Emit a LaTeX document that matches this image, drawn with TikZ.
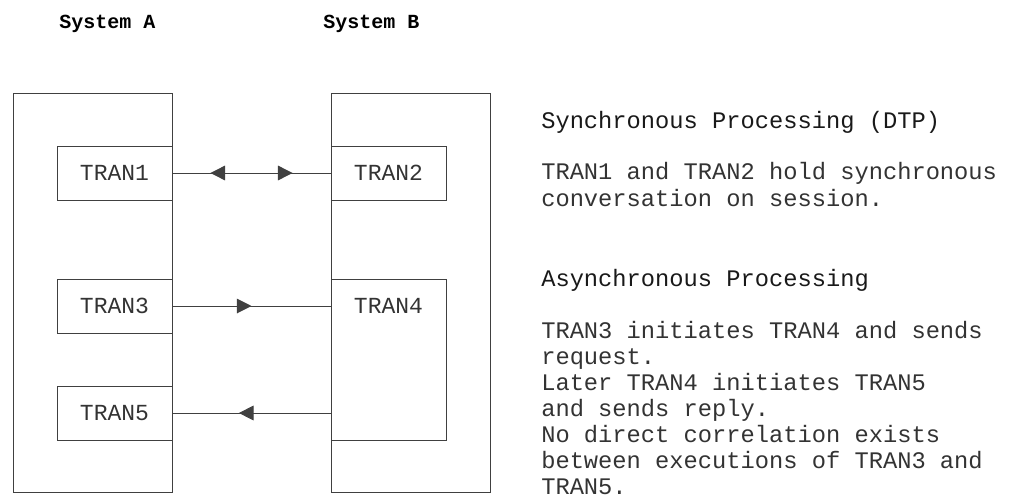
\documentclass[tikz,border=0pt]{standalone}
\usepackage{fontspec}
\setmainfont{Liberation Mono}
\usetikzlibrary{arrows.meta,decorations.markings}

\tikzset{
  sysbox/.style={draw=black!75, line width=0.75pt, inner sep=0pt, minimum width=159*0.75pt, minimum height=399*0.75pt},
  tranbox/.style={draw=black!75, line width=0.75pt, inner sep=0pt, minimum width=115*0.75pt, minimum height=54*0.75pt, text=black!80, font=\fontsize{17.25}{20}\selectfont},
  flow/.style={draw=black!75, line width=0.75pt},
  tipfwd/.style={postaction={decorate, decoration={markings, mark=at position #1 with {\arrow{Triangle[length=11pt,width=11pt]}}}}},
  tipbwd/.style={postaction={decorate, decoration={markings, mark=at position #1 with {\arrowreversed{Triangle[length=11pt,width=11pt]}}}}},
  systitle/.style={anchor=base west, inner sep=0pt, font=\bfseries\fontsize{15}{18}\selectfont},
  note/.style={anchor=base west, inner sep=0pt, text=black!80, font=\fontsize{17.8}{20}\selectfont},
}

\begin{document}
\begin{tikzpicture}[x=0.75pt,y=0.75pt,yscale=-1,xscale=1]
\useasboundingbox (0,0) rectangle (1014,500);

% Titles
\node[systitle] (titleA) at (59,28) {System A};
\node[systitle] (titleB) at (323,28) {System B};

% Systems
\node[sysbox] (sysA) at (93,292.5) {};
\node[sysbox] (sysB) at (410.5,292.5) {};

% Transactions
\node[tranbox] (tran1) at (114.5,173) {TRAN1};
\node[tranbox] (tran2) at (388.5,173) {TRAN2};
\node[tranbox] (tran3) at (114.5,306) {TRAN3};
\node[tranbox] (tran5) at (114.5,413) {TRAN5};
\node[tranbox, minimum height=161*0.75pt, anchor=north] (tran4) at (388.5,279) {};
\node[tranbox, draw=none] (tran4txt) at (388.5,306) {TRAN4};

% Conversations
\draw[flow, tipbwd=0.24, tipfwd=0.76] (tran1.east) -- (tran2.west);
\draw[flow, tipfwd=0.5] (tran3.east) -- (tran3.east -| tran4.west);
\draw[flow, tipfwd=0.58] (tran5.east -| tran4.west) -- (tran5.east);

% Text Node
\node[note, text=black!90] (synchead) at (541,128) {Synchronous Processing (DTP)};
\node[note] (sync1) at (541,179) {TRAN1 and TRAN2 hold synchronous};
\node[note] (sync2) at (541,206) {conversation on session.};
% Text Node
\node[note, text=black!90] (asynchead) at (541,286) {Asynchronous Processing};
\node[note] (async1) at (541,338) {TRAN3 initiates TRAN4 and sends};
\node[note] (async2) at (541,364) {request.};
\node[note] (async3) at (541,390) {Later TRAN4 initiates TRAN5};
\node[note] (async4) at (541,416) {and sends reply.};
\node[note] (async5) at (541,442) {No direct correlation exists};
\node[note] (async6) at (541,468) {between executions of TRAN3 and};
\node[note] (async7) at (541,494) {TRAN5.};

\end{tikzpicture}
\end{document}
